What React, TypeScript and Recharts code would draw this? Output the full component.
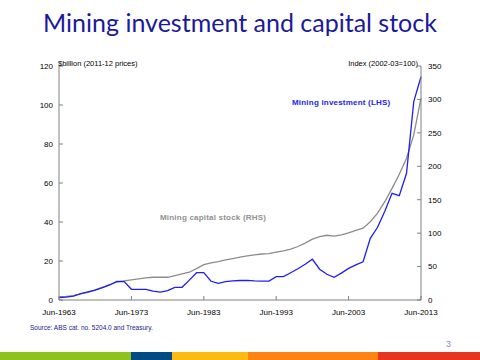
import { LineChart, Line, XAxis, YAxis } from "recharts";

// Financial years ending June, 1963 to 2013
const years = [
  1963, 1964, 1965, 1966, 1967, 1968, 1969, 1970, 1971, 1972,
  1973, 1974, 1975, 1976, 1977, 1978, 1979, 1980, 1981, 1982,
  1983, 1984, 1985, 1986, 1987, 1988, 1989, 1990, 1991, 1992,
  1993, 1994, 1995, 1996, 1997, 1998, 1999, 2000, 2001, 2002,
  2003, 2004, 2005, 2006, 2007, 2008, 2009, 2010, 2011, 2012, 2013,
];

// $billion, 2011-12 prices (LHS)
const miningInvestment = [
  1.2, 1.5, 2.0, 3.3, 4.2, 5.1, 6.4, 7.7, 9.5, 9.4,
  5.5, 5.5, 5.5, 4.6, 4.0, 4.8, 6.5, 6.5, 10.2, 14.0,
  14.0, 9.6, 8.5, 9.4, 9.8, 10.0, 10.1, 9.8, 9.7, 9.7,
  12.0, 12.0, 14.0, 16.0, 18.3, 20.9, 15.8, 13.2, 11.6, 13.8,
  16.2, 18.0, 19.6, 31.6, 37.3, 45.5, 54.7, 53.5, 65.0, 101.7, 114.5,
];

// Index, 2002-03 = 100 (RHS)
const capitalStock = [
  5, 5.5, 6.5, 9, 11.5, 15, 19, 23, 27, 28.5,
  30, 31.5, 33, 34, 34, 34, 36.5, 39, 41.5, 47,
  53, 55.5, 57.5, 60, 62, 64, 66, 67.5, 68.8, 69.5,
  71.5, 73.5, 76, 80, 85, 91, 94.7, 96.8, 95.5, 97.5,
  100.5, 104, 107.5, 117, 130, 147, 167, 188, 212, 247, 302,
];

const xTicks = [1963, 1973, 1983, 1993, 2003, 2013];
const leftTicks = [0, 20, 40, 60, 80, 100, 120];
const rightTicks = [0, 50, 100, 150, 200, 250, 300, 350];

const bottomBands = [
  { color: "#8DC21F", width: 131 },
  { color: "#004A86", width: 41 },
  { color: "#FDBA12", width: 76 },
  { color: "#FF8312", width: 130 },
  { color: "#E8351F", width: 102 },
];

const data = years.map((y, i) => ({
  year: y,
  invest: miningInvestment[i],
  stock: capitalStock[i],
}));

const tickStyle = { fontSize: 8, fill: "#000", fontFamily: "Liberation Sans, Arial, sans-serif" };
const axisGrey = "#808080";

export default function App() {
  return (
    <div style={{ position: "absolute", left: 0, top: 0, width: 480, height: 360, background: "#fff", overflow: "hidden", fontFamily: "Liberation Sans, Arial, sans-serif" }}>
      <div style={{ position: "absolute", left: 0, width: 480, top: 7, textAlign: "center", fontFamily: "Lato, sans-serif", fontSize: 25, color: "#1a1a9a" }}>
        Mining investment and capital stock
      </div>

      <div style={{ position: "absolute", left: 0, top: 0 }}>
        <LineChart width={480} height={360} data={data} margin={{ top: 66, right: 29, bottom: 36, left: 29 }}>
          <XAxis
            dataKey="year"
            type="number"
            domain={[1963, 2013]}
            ticks={xTicks}
            tickFormatter={(v) => "Jun-" + v}
            stroke={axisGrey}
            tickSize={-4}
            tickMargin={13}
            tick={tickStyle}
            height={24}
            interval={0}
          />
          <YAxis
            yAxisId="left"
            domain={[0, 120]}
            ticks={leftTicks}
            stroke={axisGrey}
            tickSize={-4}
            tickMargin={10}
            tick={tickStyle}
            width={30}
            interval={0}
          />
          <YAxis
            yAxisId="right"
            orientation="right"
            domain={[0, 350]}
            ticks={rightTicks}
            stroke={axisGrey}
            tickSize={-4}
            tickMargin={11}
            tick={tickStyle}
            width={30}
            interval={0}
          />
          <Line yAxisId="right" dataKey="stock" stroke="#8c8c8c" strokeWidth={1.3} dot={false} isAnimationActive={false} />
          <Line yAxisId="left" dataKey="invest" stroke="#1f1ff0" strokeWidth={1.3} dot={false} isAnimationActive={false} />
        </LineChart>
      </div>

      <div style={{ position: "absolute", left: 58, top: 59, fontSize: 7.5, color: "#000" }}>$billion (2011-12 prices)</div>
      <div style={{ position: "absolute", right: 62, top: 59, fontSize: 7.5, color: "#000" }}>Index (2002-03=100)</div>

      <div style={{ position: "absolute", left: 292, top: 98, fontSize: 8, color: "#2424ee", fontWeight: "bold", letterSpacing: 0.2 }}>Mining investment (LHS)</div>
      <div style={{ position: "absolute", left: 160, top: 213, fontSize: 8, color: "#909090", fontWeight: "bold", letterSpacing: 0.2 }}>Mining capital stock (RHS)</div>

      <div style={{ position: "absolute", left: 30, top: 324, fontSize: 6.5, color: "#1a1a8c" }}>Source: ABS cat. no. 5204.0 and Treasury.</div>
      <div style={{ position: "absolute", left: 446, top: 339, fontSize: 9, color: "#8a8ac8" }}>3</div>

      <div style={{ position: "absolute", left: 0, top: 352, width: 480, height: 8, display: "flex" }}>
        {bottomBands.map((b, i) => (
          <div key={i} style={{ width: b.width, height: 8, background: b.color }} />
        ))}
      </div>
    </div>
  );
}
